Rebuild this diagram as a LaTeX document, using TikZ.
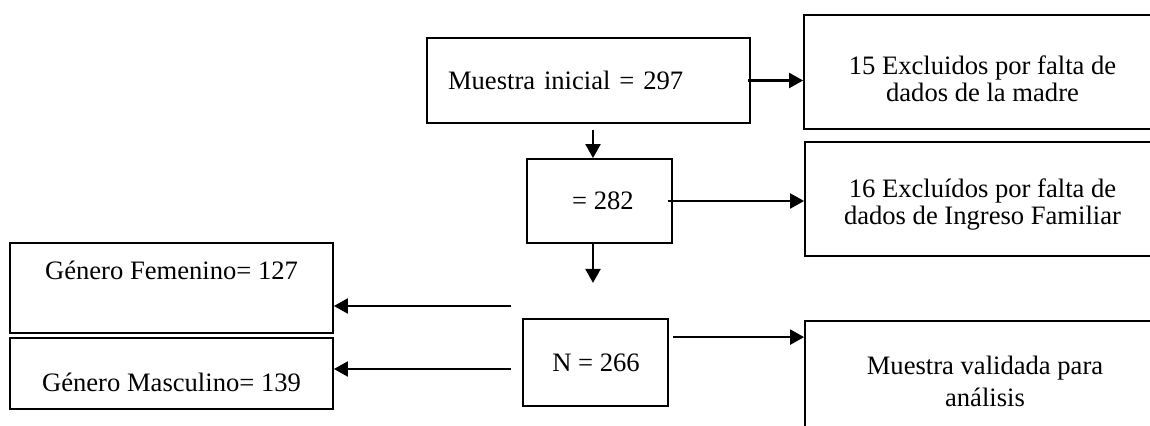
\documentclass[tikz,border=0pt]{standalone}
\usepackage{fontspec}
\setmainfont{Liberation Serif}
\usetikzlibrary{arrows.meta,calc}
\begin{document}
\begin{tikzpicture}[x=0.5pt,y=-0.5pt,
  box/.style={draw,line width=0.9pt,rectangle,inner sep=0pt},
  txt/.style={inner sep=0pt,align=center,font=\fontsize{13.3}{13.5}\selectfont},
  arr/.style={line width=1.1pt,-{Triangle[length=7pt,width=7.5pt]}}]
\useasboundingbox (0,0) rectangle (1150,426);
\fill[white] (0,0) rectangle (1150,426);
\clip (0,0) rectangle (1150,426);
% boxes
\node[box,minimum width=161.5pt,minimum height=42.5pt,text width=140.5pt,align=left,
  font=\fontsize{13.3}{13.5}\selectfont] (init) at (588.5,80.5) {Muestra inicial = 297};
\node[box,minimum width=178.5pt,minimum height=57pt] (ex15) at (982.5,72) {};
\node[txt] (ex15t) at (982.5,78.5) {15 Excluidos por falta de\\dados de la madre};
\node[box,minimum width=72.5pt,minimum height=42pt] (n282) at (599.5,201) {};
\node[txt] (n282t) at (603,201) {= 282};
\node[box,minimum width=177.5pt,minimum height=57pt] (ex16) at (982.5,199) {};
\node[txt] (ex16t) at (982.5,205) {16 Excluídos por falta de\\dados de Ingreso Familiar};
\node[box,minimum width=161.5pt,minimum height=45pt] (fem) at (171.5,288) {};
\node[txt] (femt) at (171.5,270) {Género Femenino= 127};
\node[box,minimum width=161.5pt,minimum height=35.5pt] (masc) at (171.5,373.5) {};
\node[txt] (masct) at (171.5,382) {Género Masculino= 139};
\node[box,minimum width=72.5pt,minimum height=43.5pt] (n266) at (595.5,362.5) {};
\node[txt] (n266t) at (596,363) {N = 266};
\node[box,minimum width=177.5pt,minimum height=59pt] (valid) at (982.5,380) {};
\node[txt,font=\fontsize{13.3}{16}\selectfont] (validt) at (985,381) {Muestra validada para\\análisis};
% connectors
\coordinate (a1) at ($(init.east)+(-3,0)$);
\draw[arr] (a1) -- (a1 -| ex15.west);
\coordinate (a2) at ($(init.south)+(4.5,6)$);
\draw[arr] (a2) -- (a2 |- n282.north);
\coordinate (a3) at ($(n282.east)+(-5,0)$);
\draw[arr] (a3) -- (a3 -| ex16.west);
\coordinate (a4) at ($(n282.south)+(-6.5,0)$);
\coordinate (a4e) at ($(a4)+(0,39)$);
\draw[arr] (a4) -- (a4e);
\coordinate (fl) at (511,306);
\draw[arr] (fl) -- (fl -| fem.east);
\coordinate (ml) at (511,369);
\draw[arr] (ml) -- (ml -| masc.east);
\coordinate (a5) at ($(n266.north east)+(4,19)$);
\draw[arr] (a5) -- (a5 -| valid.west);
\end{tikzpicture}
\end{document}
